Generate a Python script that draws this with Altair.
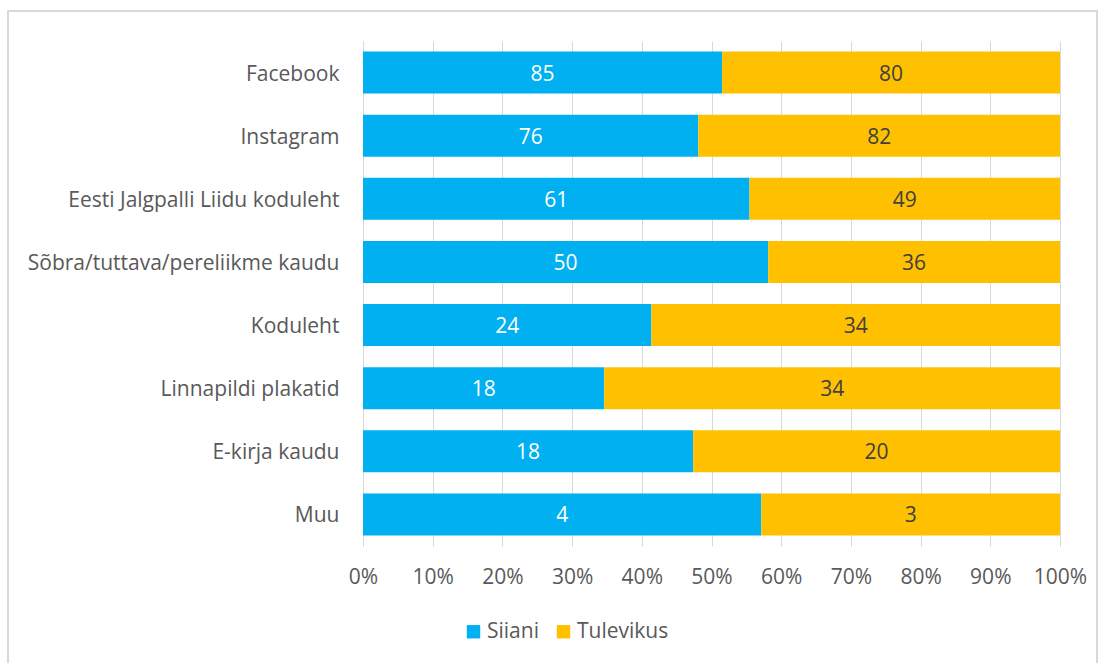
import altair as alt
import pandas as pd

categories = ["Facebook", "Instagram", "Eesti Jalgpalli Liidu koduleht",
              "Sõbra/tuttava/pereliikme kaudu", "Koduleht", "Linnapildi plakatid",
              "E-kirja kaudu", "Muu"]
siiani = [85, 76, 61, 50, 24, 18, 18, 4]
tulevikus = [80, 82, 49, 36, 34, 34, 20, 3]
series = ["Siiani", "Tulevikus"]
colors = ["#00B0F0", "#FFC000"]
tick_values = [0, 0.1, 0.2, 0.3, 0.4, 0.5, 0.6, 0.7, 0.8, 0.9, 1.0]

rows = []
for c, a, b in zip(categories, siiani, tulevikus):
    rows.append({"cat": c, "series": "Siiani", "ord": 0, "value": a})
    rows.append({"cat": c, "series": "Tulevikus", "ord": 1, "value": b})
df = pd.DataFrame(rows)

FONT = "Open Sans"
GREY = "#595959"
FS = 21

base = alt.Chart(df).transform_stack(
    stack="value", groupby=["cat"], as_=["v0", "v1"], offset="normalize",
    sort=[alt.SortField("ord")]
).transform_calculate(mid="(datum.v0 + datum.v1) / 2")

y = alt.Y("cat:N", sort=categories, title=None,
          scale=alt.Scale(paddingInner=0.335, paddingOuter=0.1675),
          axis=alt.Axis(labelPadding=24, ticks=False, domainColor="#D9D9D9",
                        domainWidth=1, grid=False, labelFontSize=FS, labelOffset=2,
                        labelFont=FONT, labelColor=GREY, labelLimit=400))

bars = base.mark_bar().encode(
    x=alt.X("v0:Q", scale=alt.Scale(domain=[0, 1]), title=None,
            axis=alt.Axis(format=".0%", values=tick_values, grid=True,
                          gridColor="#D9D9D9", domain=False, ticks=False,
                          labelPadding=20, labelFontSize=FS, labelFont=FONT,
                          labelColor=GREY, labelOverlap=False, labelFlush=False)),
    x2="v1:Q",
    y=y,
    color=alt.Color("series:N", scale=alt.Scale(domain=series, range=colors),
                    legend=alt.Legend(title=None, orient="none", direction="horizontal",
                                      legendX=100, legendY=580, symbolType="square",
                                      symbolSize=180, symbolStrokeWidth=0,
                                      labelFontSize=FS, labelFont=FONT, labelColor=GREY,
                                      labelOffset=3, columnPadding=14)),
)

text = base.mark_text(fontSize=FS, font=FONT, dy=2).encode(
    x="mid:Q",
    y=y,
    text="value:Q",
    color=alt.condition(alt.datum.series == "Siiani", alt.value("white"), alt.value("#404040")),
)

border = alt.Chart(pd.DataFrame({"a": [0]})).mark_rect(
    fillOpacity=0, stroke="#D9D9D9", strokeWidth=2
).encode(x=alt.value(-355), x2=alt.value(734), y=alt.value(-30), y2=alt.value(628))

chart = alt.layer(bars, text, border).properties(
    width=697, height=505,
    autosize=alt.AutoSizeParams(type="none"),
    padding={"left": 363, "top": 41, "right": 45, "bottom": 117},
).configure_view(stroke=None)

chart.save("out.html", embed_options={"renderer": "svg", "actions": False})
